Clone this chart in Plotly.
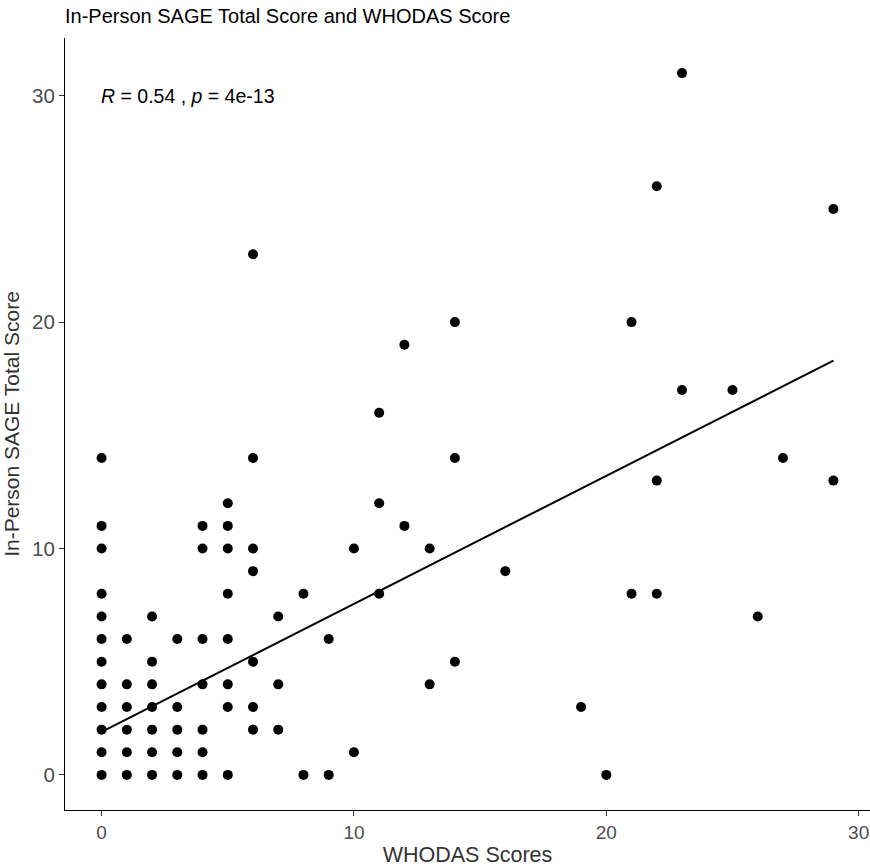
import plotly.graph_objects as go

# WHODAS score (x) and In-Person SAGE total score (y)
whodas = [0]*12 + [1]*6 + [2]*7 + [3]*5 + [4]*7 + [5]*8 + [6]*7 + [7]*3 + [8]*2 + [9]*2 + \
         [10]*2 + [11]*3 + [12]*2 + [13]*2 + [14]*3 + [16] + [19] + [20] + [21]*2 + [22]*3 + \
         [23]*2 + [25] + [26] + [27] + [29]*2
sage = [14, 11, 10, 8, 7, 6, 5, 4, 3, 2, 1, 0,
        6, 4, 3, 2, 1, 0,
        7, 5, 4, 3, 2, 1, 0,
        6, 3, 2, 1, 0,
        11, 10, 6, 4, 2, 1, 0,
        12, 11, 10, 8, 6, 4, 3, 0,
        23, 14, 10, 9, 5, 3, 2,
        7, 4, 2,
        8, 0,
        6, 0,
        10, 1,
        16, 12, 8,
        19, 11,
        10, 4,
        20, 14, 5,
        9,
        3,
        0,
        20, 8,
        26, 13, 8,
        31, 17,
        17,
        7,
        14,
        25, 13]

# fitted regression line
fit_x = [0, 29]
fit_y = [1.9, 18.3]

x_ticks = [0, 10, 20, 30]
y_ticks = [0, 10, 20, 30]

title_text = "In-Person SAGE Total Score and WHODAS Score"
x_title = "WHODAS Scores"
y_title = "In-Person SAGE Total Score"
stat_text = "<i>R</i> = 0.54 , <i>p</i> = 4e-13"

FONT = "Liberation Sans, Arial, sans-serif"

fig = go.Figure()
fig.add_trace(go.Scatter(x=whodas, y=sage, mode="markers",
                         marker=dict(color="black", size=10), showlegend=False))
fig.add_trace(go.Scatter(x=fit_x, y=fit_y, mode="lines",
                         line=dict(color="black", width=2), showlegend=False))

fig.update_layout(
    width=870, height=867,
    margin=dict(l=65, r=0, t=38, b=57),
    paper_bgcolor="white", plot_bgcolor="white",
    font=dict(family=FONT, color="black"),
    title=dict(text=title_text, x=65/870, xref="container", xanchor="left",
               y=1 - 16/867, yref="container", yanchor="middle",
               font=dict(size=20, color="black", family=FONT)),
    annotations=[dict(x=0, y=30, xref="x", yref="y", text=stat_text, showarrow=False,
                      xanchor="left", yanchor="middle", xshift=-3,
                      font=dict(size=19.5, color="black", family=FONT))],
)
fig.update_xaxes(range=[-1.45, 30.45], tickvals=x_ticks, ticks="outside", ticklen=5,
                 tickcolor="#333333", tickwidth=1, showline=True, linecolor="black",
                 linewidth=1.2, showgrid=False, zeroline=False,
                 tickfont=dict(size=19, color="#4D4D4D"),
                 title=dict(text=x_title, font=dict(size=21.5, color="#333333"), standoff=5))
fig.update_yaxes(range=[-1.55, 32.55], tickvals=y_ticks, ticks="outside", ticklen=5,
                 tickcolor="#333333", tickwidth=1, showline=True, linecolor="black",
                 linewidth=1.2, showgrid=False, zeroline=False,
                 tickfont=dict(size=20.5, color="#4D4D4D"),
                 title=dict(text=y_title, font=dict(size=21, color="#333333"), standoff=6))

fig.write_html("out.html", config={"displayModeBar": False})

# remove the default page margin so the figure sits at the window's top-left corner
with open("out.html", "r", encoding="utf-8") as f:
    html = f.read()
html = html.replace("<head>", "<head><style>html,body{margin:0;padding:0;overflow:hidden;}</style>", 1)
with open("out.html", "w", encoding="utf-8") as f:
    f.write(html)
